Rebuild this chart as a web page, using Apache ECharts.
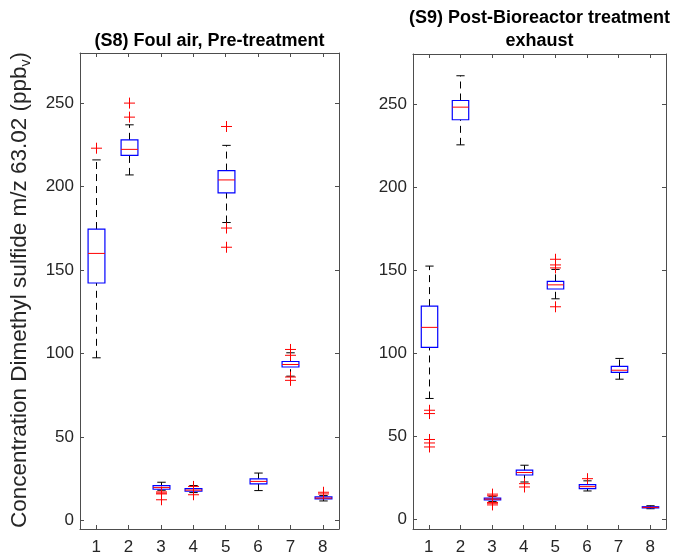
<!DOCTYPE html>
<html>
<head>
<meta charset="utf-8">
<script src="https://cdn.jsdelivr.net/npm/echarts@6/dist/echarts.min.js"></script>
<style>
html,body{margin:0;padding:0;background:#fff;}
#chart{width:674px;height:556px;}
</style>
</head>
<body>
<div id="chart"></div>
<script>
const categories = ['1','2','3','4','5','6','7','8'];
const yTickValues = [0, 50, 100, 150, 200, 250];

// [lower whisker, Q1, median, Q3, upper whisker]
const s8Boxes = [
  [97.5, 142.3, 160, 174.6, 216],
  [207, 218.7, 222.3, 228, 237],
  [18.2, 18.8, 19.8, 21, 23],
  [16.8, 17.6, 18.3, 19.2, 21],
  [178.5, 196.2, 204, 209.6, 224.7],
  [18, 22, 23.5, 25, 28.5],
  [86.5, 92, 93.5, 95.3, 100.5],
  [11.8, 13, 13.5, 14.2, 15]
];
// [category index, value]
const s8Outliers = [
  [0, 223], [1, 250], [1, 241.6], [2, 17.2], [2, 16.5], [2, 16], [2, 12.5],
  [3, 20.5], [3, 15.5], [4, 236], [4, 175.2], [4, 163.7],
  [6, 102.5], [6, 99], [6, 86], [6, 84], [7, 16], [7, 17]
];

const s9Boxes = [
  [72.6, 103.3, 115.4, 128.2, 152.3],
  [225.3, 240.4, 248, 252, 266.9],
  [10.5, 11.5, 12, 12.6, 13.7],
  [22.3, 26.5, 28, 29.4, 32.4],
  [132.6, 138.5, 141, 143.1, 150.3],
  [16.9, 18.3, 19.5, 20.7, 23],
  [84.2, 88.3, 89.6, 91.9, 96.7],
  [6.2, 6.7, 7, 7.4, 8]
];
const s9Outliers = [
  [0, 65.5], [0, 63.5], [0, 47.9], [0, 45.8], [0, 43.4],
  [2, 15], [2, 14], [2, 10], [2, 9.5], [2, 8.5],
  [3, 21.3], [3, 19.3], [4, 156.4], [4, 153], [4, 151.2], [4, 127.8], [5, 24.3]
];

const FONT = "'Liberation Sans', Arial, sans-serif";
const AXIS_COLOR = '#4d4d4d';
const LABEL_COLOR = '#262626';

function boxItems(boxes) {
  return boxes.map((b, i) => [i].concat(b));
}

function renderBox(params, api) {
  const x = api.value(0);
  const lo = api.coord([x, api.value(1)]);
  const q1 = api.coord([x, api.value(2)]);
  const md = api.coord([x, api.value(3)]);
  const q3 = api.coord([x, api.value(4)]);
  const hi = api.coord([x, api.value(5)]);
  const band = api.size([1, 0])[0];
  const bw = band * 0.52;
  const cw = band * 0.26;
  const cx = Math.round(lo[0]) + 0.5;
  const dash = { stroke: '#000', lineWidth: 1, lineDash: [7, 5] };
  const solid = { stroke: '#000', lineWidth: 1 };
  return {
    type: 'group',
    children: [
      { type: 'line', shape: { x1: cx, y1: q3[1], x2: cx, y2: hi[1] }, style: dash },
      { type: 'line', shape: { x1: cx, y1: lo[1], x2: cx, y2: q1[1] }, style: dash },
      { type: 'line', shape: { x1: cx - cw / 2, y1: hi[1], x2: cx + cw / 2, y2: hi[1] }, style: solid },
      { type: 'line', shape: { x1: cx - cw / 2, y1: lo[1], x2: cx + cw / 2, y2: lo[1] }, style: solid },
      { type: 'rect', shape: { x: cx - bw / 2, y: q3[1], width: bw, height: q1[1] - q3[1] },
        style: { fill: 'none', stroke: '#0000ff', lineWidth: 1.2 } },
      { type: 'line', shape: { x1: cx - bw / 2, y1: md[1], x2: cx + bw / 2, y2: md[1] },
        style: { stroke: '#ff0000', lineWidth: 1 } }
    ]
  };
}

function renderPlus(params, api) {
  const p = api.coord([api.value(0), api.value(1)]);
  const h = 5.5;
  const cx = Math.round(p[0]) + 0.5;
  const st = { stroke: '#ff0000', lineWidth: 1 };
  return {
    type: 'group',
    children: [
      { type: 'line', shape: { x1: cx - h, y1: p[1], x2: cx + h, y2: p[1] }, style: st },
      { type: 'line', shape: { x1: cx, y1: p[1] - h, x2: cx, y2: p[1] + h }, style: st }
    ]
  };
}

function xAxes(gi) {
  const common = {
    type: 'category', data: categories, gridIndex: gi, boundaryGap: true,
    axisLine: { show: true, onZero: false, lineStyle: { color: AXIS_COLOR, width: 1 } },
    axisTick: { show: true, inside: true, alignWithLabel: true, length: 4, lineStyle: { color: AXIS_COLOR } },
    splitLine: { show: false }
  };
  return [
    Object.assign({}, common, { position: 'bottom',
      axisLabel: { show: true, fontSize: 17, color: LABEL_COLOR, fontFamily: FONT, margin: 10 } }),
    Object.assign({}, common, { position: 'top', axisLabel: { show: false } })
  ];
}

function yAxes(gi, min, max) {
  const common = {
    type: 'value', gridIndex: gi, min: min, max: max,
    axisLine: { show: true, onZero: false, lineStyle: { color: AXIS_COLOR, width: 1 } },
    axisTick: { show: true, inside: true, length: 4, customValues: yTickValues, lineStyle: { color: AXIS_COLOR } },
    splitLine: { show: false }
  };
  return [
    Object.assign({}, common, { position: 'left',
      axisLabel: { show: true, customValues: yTickValues, fontSize: 17, color: LABEL_COLOR, fontFamily: FONT, margin: 6 } }),
    Object.assign({}, common, { position: 'right', axisLabel: { show: false, customValues: yTickValues } })
  ];
}

const chart = echarts.init(document.getElementById('chart'), null, { renderer: 'canvas' });
chart.setOption({
  backgroundColor: '#fff',
  animation: false,
  grid: [
    { left: 80, top: 53, width: 259, height: 476, show: false },
    { left: 413, top: 54, width: 253, height: 475, show: false }
  ],
  xAxis: xAxes(0).concat(xAxes(1)),
  yAxis: yAxes(0, -5, 280).concat(yAxes(1, -6, 280)),
  series: [
    { type: 'custom', xAxisIndex: 0, yAxisIndex: 0, data: boxItems(s8Boxes), renderItem: renderBox,
      encode: { x: 0, y: [1, 2, 3, 4, 5] }, clip: false },
    { type: 'custom', xAxisIndex: 0, yAxisIndex: 0, data: s8Outliers, renderItem: renderPlus,
      encode: { x: 0, y: 1 }, clip: false },
    { type: 'custom', xAxisIndex: 2, yAxisIndex: 2, data: boxItems(s9Boxes), renderItem: renderBox,
      encode: { x: 0, y: [1, 2, 3, 4, 5] }, clip: false },
    { type: 'custom', xAxisIndex: 2, yAxisIndex: 2, data: s9Outliers, renderItem: renderPlus,
      encode: { x: 0, y: 1 }, clip: false }
  ],
  graphic: [
    { type: 'text', x: 209.5, y: 41, silent: true,
      style: { text: '(S8) Foul air, Pre-treatment', font: 'bold 18px ' + FONT, fill: '#000',
        textAlign: 'center', textVerticalAlign: 'middle' } },
    { type: 'text', x: 539.5, y: 18, silent: true,
      style: { text: '(S9) Post-Bioreactor treatment', font: 'bold 18px ' + FONT, fill: '#000',
        textAlign: 'center', textVerticalAlign: 'middle' } },
    { type: 'text', x: 539.5, y: 41, silent: true,
      style: { text: 'exhaust', font: 'bold 18px ' + FONT, fill: '#000',
        textAlign: 'center', textVerticalAlign: 'middle' } },
    { type: 'text', x: 20, y: 290, rotation: Math.PI / 2, silent: true,
      style: {
        text: '{m|Concentration Dimethyl sulfide m/z 63.02 (ppb}{s|v}{m|)}',
        align: 'center', verticalAlign: 'middle',
        rich: {
          m: { fontSize: 22.5, fontFamily: FONT, fill: '#262626', color: '#262626', lineHeight: 26 },
          s: { fontSize: 14, fontFamily: FONT, fill: '#262626', color: '#262626', lineHeight: 26, padding: [12, 0, 0, 0] }
        }
      } }
  ]
});
</script>
</body>
</html>
